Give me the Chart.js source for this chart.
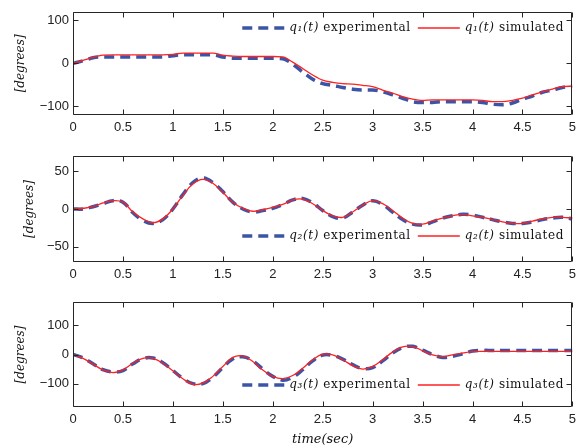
<!DOCTYPE html>
<html lang="en">
<head>
<meta charset="UTF-8">
<title>Joint angles: experimental vs simulated</title>
<script src="https://cdn.jsdelivr.net/npm/chart.js"></script>
<style>
    body { margin: 0; background: #fff; }
    .panel { position: absolute; left: 0; }
</style>
</head>
<body>
<div class="panel" style="top:0px"><canvas id="q1Chart" width="581" height="140"></canvas></div>
<div class="panel" style="top:140px"><canvas id="q2Chart" width="581" height="150"></canvas></div>
<div class="panel" style="top:290px"><canvas id="q3Chart" width="581" height="157"></canvas></div>
<script>
// sample times (sec)
const times = [0, 0.1, 0.2, 0.3, 0.4, 0.5, 0.6, 0.7, 0.8, 0.9,
    1, 1.1, 1.2, 1.3, 1.4, 1.5, 1.6, 1.7, 1.8, 1.9,
    2, 2.1, 2.2, 2.3, 2.4, 2.5, 2.6, 2.7, 2.8, 2.9,
    3, 3.1, 3.2, 3.3, 3.4, 3.5, 3.6, 3.7, 3.8, 3.9,
    4, 4.1, 4.2, 4.3, 4.4, 4.5, 4.6, 4.7, 4.8, 4.9, 5];

// joint 1 [degrees]
const q1Exp = [0, 6, 13, 15, 15, 15, 15, 15, 15, 15,
    18, 20, 20, 20, 20, 15, 12, 12, 12, 12,
    12, 11, -2, -20, -37, -47, -51, -56, -60, -62,
    -62, -66, -73, -81, -89, -91, -91, -89, -89, -89,
    -89, -91, -95, -96, -92, -83, -76, -67, -62, -56, -53];
const q1Sim = [0, 7, 14, 19, 20, 20, 20, 20, 20, 20,
    21, 24, 24, 24, 24, 19, 17, 16, 16, 16,
    16, 15, 3, -12, -27, -39, -44, -47, -48, -51,
    -54, -62, -69, -77, -83, -86, -85, -85, -85, -85,
    -85, -86, -89, -89, -86, -81, -73, -66, -60, -54, -53];

// joint 2 [degrees]
const q2Exp = [0, 0, 3, 7, 11, 9, -5, -15, -19, -14,
    0, 19, 35, 41, 35, 23, 9, 0, -4, -2,
    1, 6, 12, 14, 8, -2, -10, -12, -4, 5,
    11, 6, -4, -14, -20, -21, -17, -12, -9, -7,
    -8, -11, -14, -17, -19, -19, -17, -14, -12, -11, -13];
const q2Sim = [0, 1, 3, 8, 11, 9, -4, -13, -18, -13,
    0, 18, 33, 39, 34, 22, 9, 1, -3, -1,
    2, 6, 12, 13, 7, -2, -9, -11, -4, 5,
    11, 7, -2, -12, -19, -20, -16, -12, -9, -7,
    -9, -11, -14, -17, -19, -19, -16, -13, -11, -11, -12];

// joint 3 [degrees]
const q3Exp = [0, -12, -32, -52, -60, -55, -32, -14, -12, -28,
    -55, -82, -100, -100, -78, -45, -15, -8, -22, -50,
    -75, -88, -78, -52, -22, -2, -3, -16, -35, -48,
    -45, -22, 5, 24, 28, 15, 0, -10, -6, 2,
    12, 14, 14, 14, 14, 14, 14, 14, 14, 14, 14];
const q3Sim = [0, -13, -33, -53, -62, -53, -30, -13, -13, -30,
    -56, -83, -102, -98, -75, -41, -10, -5, -24, -53,
    -75, -83, -72, -47, -18, 1, -1, -18, -38, -50,
    -41, -18, 8, 26, 27, 13, -1, -7, -1, 5,
    10, 11, 11, 11, 11, 11, 11, 11, 11, 11, 11];

const xTicksStep = 0.5;
const yTicks1 = [-100, 0, 100];
const yTicks2 = [-50, 0, 50];
const yTicks3 = [-100, 0, 100];

const BLUE = '#3b55a6';
const RED = '#ff2020';

// box with inward ticks on all four sides (matlab look)
const boxPlugin = {
    id: 'matlabBox',
    afterDatasetsDraw(chart) {
        const { ctx, chartArea: a, scales: { x, y } } = chart;
        const L = Math.round(a.left) + 0.5, R = Math.round(a.right) - 0.5;
        const T = Math.round(a.top) + 0.5, B = Math.round(a.bottom) - 0.5;
        ctx.save();
        ctx.strokeStyle = '#262626';
        ctx.lineWidth = 1;
        ctx.beginPath();
        ctx.rect(L, T, R - L, B - T);
        x.ticks.forEach(t => {
            const px = Math.round(x.getPixelForValue(t.value)) + 0.5;
            ctx.moveTo(px, B); ctx.lineTo(px, B - 5);
            ctx.moveTo(px, T); ctx.lineTo(px, T + 5);
        });
        y.ticks.forEach(t => {
            const py = Math.round(y.getPixelForValue(t.value)) + 0.5;
            ctx.moveTo(L, py); ctx.lineTo(L + 5, py);
            ctx.moveTo(R, py); ctx.lineTo(R - 5, py);
        });
        ctx.stroke();
        ctx.restore();
    }
};

// legend drawn inside the axes, right aligned
const lineLegend = {
    id: 'lineLegend',
    afterDraw(chart, args, opts) {
        const ctx = chart.ctx;
        const mathFont = 'italic 12px "DejaVu Serif"';
        const textFont = '12px "DejaVu Serif"';
        const sample = 42, gap = 5, itemGap = 7;
        ctx.save();
        ctx.letterSpacing = '0.6px';
        const items = chart.data.datasets.map(ds => {
            const cut = ds.label.indexOf(' ');
            const math = ds.label.slice(0, cut), rest = ds.label.slice(cut);
            ctx.font = mathFont;
            const wm = ctx.measureText(math).width;
            ctx.font = textFont;
            const wr = ctx.measureText(rest).width;
            return { ds, math, rest, wm, wr, w: sample + gap + wm + wr };
        });
        const total = items.reduce((s, it) => s + it.w, 0) + itemGap * (items.length - 1);
        let x = opts.right - total;
        const y = opts.y;
        ctx.textBaseline = 'middle';
        items.forEach(it => {
            ctx.strokeStyle = it.ds.borderColor;
            ctx.lineWidth = it.ds.borderWidth;
            ctx.setLineDash(it.ds.borderDash || []);
            ctx.beginPath();
            ctx.moveTo(x, y);
            ctx.lineTo(x + sample, y);
            ctx.stroke();
            ctx.setLineDash([]);
            x += sample + gap;
            ctx.fillStyle = '#111';
            ctx.font = mathFont;
            ctx.fillText(it.math, x, y);
            x += it.wm;
            ctx.font = textFont;
            ctx.fillText(it.rest, x, y);
            x += it.wr + itemGap;
        });
        ctx.restore();
    }
};

function makePanel(id, cfg) {
    const ctx = document.getElementById(id).getContext('2d');
    return new Chart(ctx, {
        type: 'line',
        data: {
            datasets: [{
                label: cfg.name + ' experimental',
                data: times.map((t, i) => ({ x: t, y: cfg.exp[i] })),
                borderColor: BLUE,
                borderWidth: 3.5,
                borderDash: [10, 6],
                pointRadius: 0,
                tension: 0.4,
                cubicInterpolationMode: cfg.mode,
                order: 2
            }, {
                label: cfg.name + ' simulated',
                data: times.map((t, i) => ({ x: t, y: cfg.sim[i] })),
                borderColor: RED,
                borderWidth: 1.3,
                pointRadius: 0,
                tension: 0.4,
                cubicInterpolationMode: cfg.mode,
                order: 1
            }]
        },
        options: {
            responsive: false,
            animation: false,
            layout: { padding: { top: cfg.padTop, right: 5, left: 0, bottom: 0 } },
            plugins: {
                legend: { display: false },
                tooltip: { enabled: false },
                lineLegend: { right: 564, y: cfg.legendY }
            },
            scales: {
                x: {
                    type: 'linear',
                    min: 0,
                    max: 5,
                    grid: { display: false, drawTicks: false },
                    border: { display: false },
                    ticks: {
                        stepSize: xTicksStep,
                        padding: 5,
                        color: '#222',
                        font: { family: '"Liberation Sans"', size: 13 },
                        maxRotation: 0,
                        callback: v => String(Math.round(v * 10) / 10)
                    },
                    title: {
                        display: !!cfg.xTitle,
                        text: cfg.xTitle || '',
                        color: '#111',
                        padding: 0,
                        font: { family: '"DejaVu Serif"', style: 'italic', size: 13 }
                    },
                    afterFit(scale) { scale.height = cfg.xHeight; }
                },
                y: {
                    min: -cfg.yMax,
                    max: cfg.yMax,
                    grid: { display: false, drawTicks: false },
                    border: { display: false },
                    afterBuildTicks(scale) { scale.ticks = cfg.yTicks.map(v => ({ value: v })); },
                    ticks: {
                        padding: 4,
                        color: '#222',
                        font: { family: '"Liberation Sans"', size: 13 },
                        callback: v => v < 0 ? '\u2212' + Math.abs(v) : String(v)
                    },
                    title: {
                        display: true,
                        text: '[degrees]',
                        color: '#111',
                        padding: { top: cfg.yTitlePad, bottom: 0 },
                        font: { family: '"DejaVu Serif"', style: 'italic', size: 12 }
                    },
                    afterFit(scale) { scale.width = 73; }
                }
            }
        },
        plugins: [boxPlugin, lineLegend]
    });
}

makePanel('q1Chart', {
    name: 'q\u2081(t)', exp: q1Exp, sim: q1Sim, mode: 'monotone',
    yMax: 120, yTicks: yTicks1, padTop: 10, xHeight: 25, yTitlePad: 14, legendY: 28
});
makePanel('q2Chart', {
    name: 'q\u2082(t)', exp: q2Exp, sim: q2Sim, mode: 'default',
    yMax: 70, yTicks: yTicks2, padTop: 16, xHeight: 28, yTitlePad: 23, legendY: 96
});
makePanel('q3Chart', {
    name: 'q\u2083(t)', exp: q3Exp, sim: q3Sim, mode: 'default',
    yMax: 180, yTicks: yTicks3, padTop: 12, xHeight: 40, yTitlePad: 14, legendY: 95,
    xTitle: 'time(sec)'
});
</script>
</body>
</html>
